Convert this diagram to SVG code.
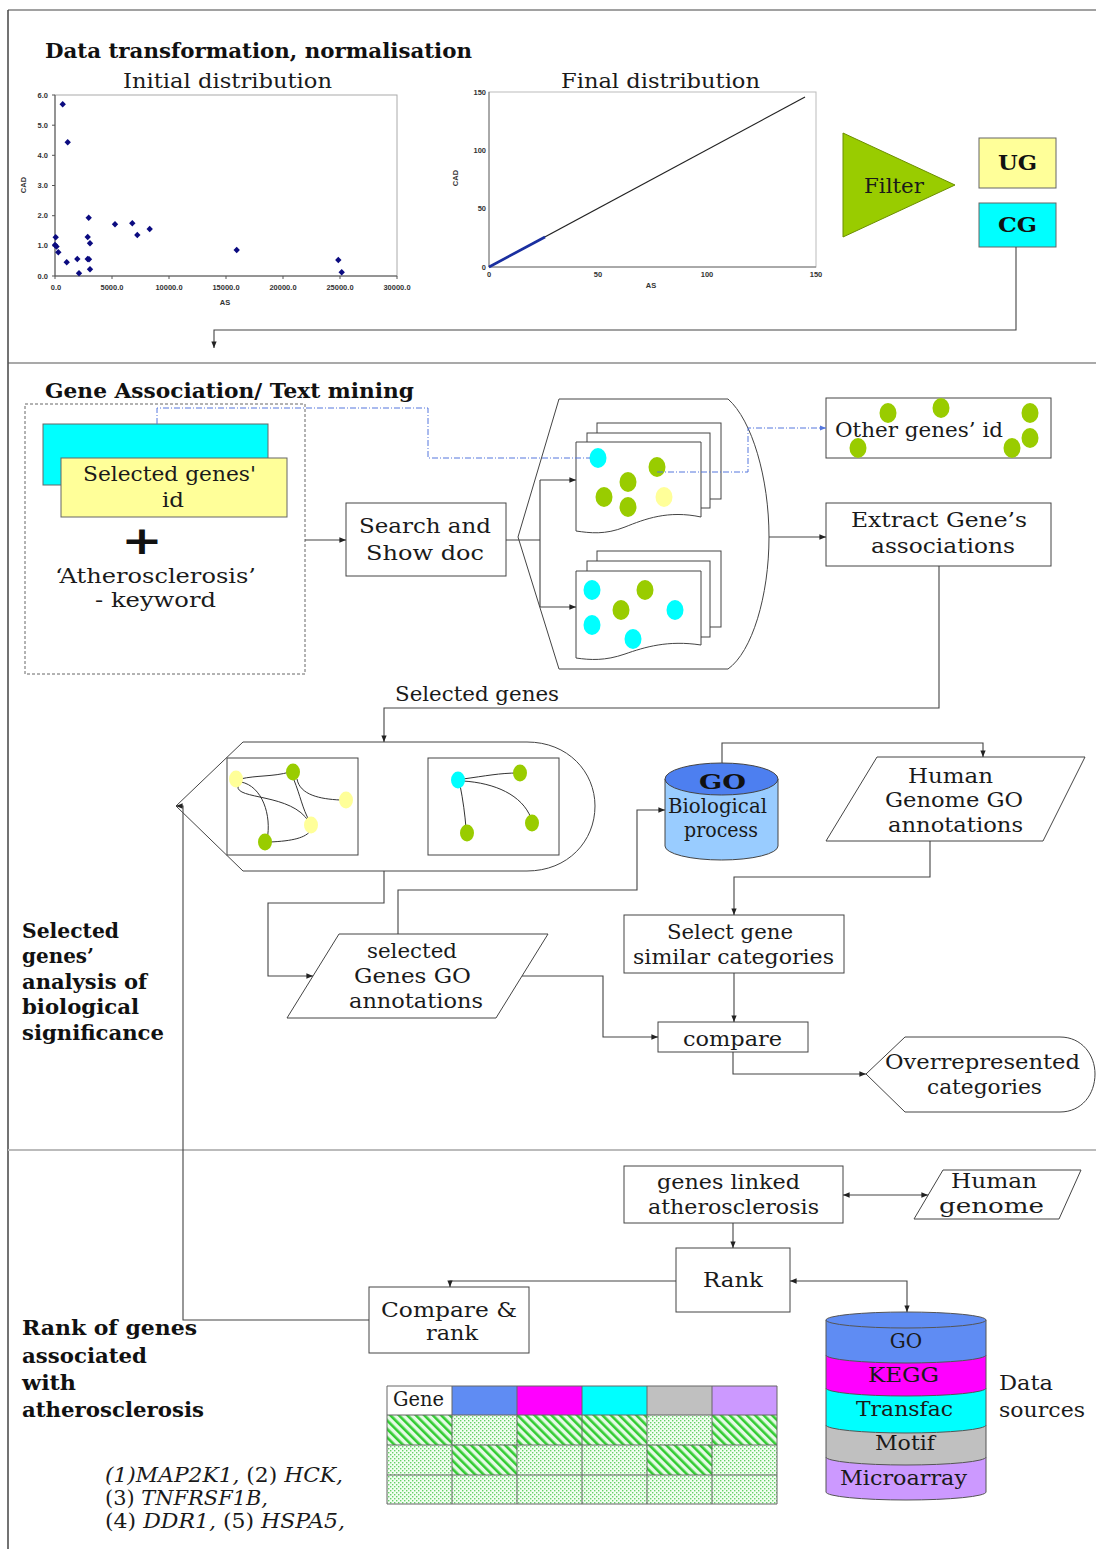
<svg xmlns="http://www.w3.org/2000/svg" xmlns:xlink="http://www.w3.org/1999/xlink" width="1096" height="1549" viewBox="0 0 1096 1549">
<style>
.t{font-family:"DejaVu Serif","Liberation Serif",serif;font-size:20px;fill:#1a1a1a}
.b{font-family:"DejaVu Serif","Liberation Serif",serif;font-size:20px;font-weight:bold;fill:#111}
.ax{font-family:"Liberation Sans",Arial,sans-serif;font-size:7.5px;font-weight:bold;fill:#333}
.box{fill:#fff;stroke:#444;stroke-width:1}
.c{fill:none;stroke:#444;stroke-width:1.1}
.dd{fill:none;stroke:#5577dd;stroke-width:1;stroke-dasharray:6 2 1 2}
.g{fill:#99cc00}.y{fill:#ffff99}.cy{fill:#00ffff}
.edge{fill:none;stroke:#333;stroke-width:1}
</style>
<defs>
<marker id="arr" viewBox="0 0 10 10" refX="10" refY="5" markerWidth="6" markerHeight="6" orient="auto-start-reverse"><path d="M0,1 L10,5 L0,9 z" fill="#222"/></marker>
<marker id="arrb" viewBox="0 0 10 10" refX="10" refY="5" markerWidth="6" markerHeight="6" orient="auto"><path d="M0,1 L10,5 L0,9 z" fill="#5577dd"/></marker>
<path id="dm" d="M0,-3.2 L3.2,0 L0,3.2 L-3.2,0 Z" fill="#0b0b80"/>
<pattern id="hatch" width="6" height="6" patternUnits="userSpaceOnUse" patternTransform="rotate(-45)"><rect width="6" height="6" fill="#e6fbe6"/><rect width="2.6" height="6" fill="#33cc33"/></pattern>
<pattern id="dots" width="4" height="4" patternUnits="userSpaceOnUse"><rect width="4" height="4" fill="#f2fff2"/><rect width="1.4" height="1.4" fill="#66d066"/><rect x="2" y="2" width="1.4" height="1.4" fill="#66d066"/></pattern>
</defs>
<rect width="1096" height="1549" fill="#fff"/>
<g id="frame">
<line x1="8" y1="10" x2="1096" y2="10" stroke="#444" stroke-width="1.2"/>
<line x1="8" y1="10" x2="8" y2="1549" stroke="#444" stroke-width="1.5"/>
<line x1="8" y1="363" x2="1096" y2="363" stroke="#555" stroke-width="1.2"/>
<line x1="8" y1="1150" x2="1096" y2="1150" stroke="#bbb" stroke-width="2"/>
</g>

<!-- Section 1 -->
<g id="title1"><text class="b" x="45" y="58" textLength="427" lengthAdjust="spacingAndGlyphs">Data transformation,  normalisation</text></g>
<g id="chart-initial">
<text class="t" x="123" y="88" textLength="209" lengthAdjust="spacingAndGlyphs">Initial distribution</text>
<rect x="55" y="95" width="342" height="181" fill="none" stroke="#aaa"/>
<path d="M55,95 V276 H397" fill="none" stroke="#555"/>
<path d="M52,95 H55 M52,125.2 H55 M52,155.3 H55 M52,185.5 H55 M52,215.7 H55 M52,245.8 H55 M52,276 H55 M55,276 V279 M112,276 V279 M169,276 V279 M226,276 V279 M283,276 V279 M340,276 V279 M397,276 V279" stroke="#555"/>
<g class="ax" text-anchor="end">
<text x="48" y="97.5">6.0</text><text x="48" y="127.7">5.0</text><text x="48" y="157.8">4.0</text><text x="48" y="188">3.0</text><text x="48" y="218.2">2.0</text><text x="48" y="248.3">1.0</text><text x="48" y="278.5">0.0</text>
</g>
<g class="ax" text-anchor="middle">
<text x="56" y="290">0.0</text><text x="112" y="290">5000.0</text><text x="169" y="290">10000.0</text><text x="226" y="290">15000.0</text><text x="283" y="290">20000.0</text><text x="340" y="290">25000.0</text><text x="397" y="290">30000.0</text>
<text x="225" y="305">AS</text>
<text x="0" y="0" transform="translate(26,185) rotate(-90)">CAD</text>
</g>
<g>
<use href="#dm" x="62.7" y="104.3"/><use href="#dm" x="67.7" y="142.3"/><use href="#dm" x="88.7" y="217.7"/><use href="#dm" x="55.7" y="237.3"/>
<use href="#dm" x="87.7" y="237"/><use href="#dm" x="90" y="243.3"/><use href="#dm" x="55" y="245"/><use href="#dm" x="56.5" y="246.5"/>
<use href="#dm" x="58.3" y="252.3"/><use href="#dm" x="66.7" y="262.3"/><use href="#dm" x="77.3" y="259"/><use href="#dm" x="87.7" y="259"/>
<use href="#dm" x="89" y="259.3"/><use href="#dm" x="79" y="273.3"/><use href="#dm" x="90" y="269.3"/><use href="#dm" x="115" y="224.3"/>
<use href="#dm" x="132.3" y="223.3"/><use href="#dm" x="137.3" y="235"/><use href="#dm" x="149.7" y="229"/><use href="#dm" x="236.7" y="250"/>
<use href="#dm" x="338.3" y="260"/><use href="#dm" x="341.7" y="272.3"/>
</g>
</g>
<g id="chart-final">
<text class="t" x="561" y="88" textLength="199" lengthAdjust="spacingAndGlyphs">Final distribution</text>
<rect x="489" y="92" width="327" height="175" fill="none" stroke="#bbb"/>
<path d="M489,92 V267 H816" fill="none" stroke="#777"/>
<g class="ax" text-anchor="end" font-size="8.5">
<text x="486" y="95">150</text><text x="486" y="152.5">100</text><text x="486" y="211">50</text><text x="486" y="270">0</text>
</g>
<g class="ax" text-anchor="middle" font-size="8.5">
<text x="489" y="277">0</text><text x="598" y="277">50</text><text x="707" y="277">100</text><text x="816" y="277">150</text>
<text x="651" y="288">AS</text>
<text x="0" y="0" transform="translate(458,178) rotate(-90)">CAD</text>
</g>
<line x1="489" y1="267" x2="805" y2="97" stroke="#222" stroke-width="1.2"/>
<line x1="489" y1="267" x2="545" y2="237" stroke="#1a2fa0" stroke-width="2.6"/>
</g>
<g id="filter">
<polygon points="843,133 955,185 843,237" fill="#99cc00" stroke="#6b8e00"/>
<text class="t" x="864" y="193" font-size="21" textLength="60" lengthAdjust="spacingAndGlyphs">Filter</text>
</g>
<g id="UG"><rect x="979" y="138" width="77" height="50" fill="#ffff99" stroke="#666"/><text class="b" x="998" y="170" font-size="22" textLength="39" lengthAdjust="spacingAndGlyphs">UG</text></g>
<g id="CG"><rect x="979" y="203" width="77" height="44" fill="#00ffff" stroke="#666"/><text class="b" x="998" y="232" font-size="22" textLength="39" lengthAdjust="spacingAndGlyphs">CG</text></g>

<!-- Section 2 -->
<g id="title2"><text class="b" x="45" y="398" textLength="369" lengthAdjust="spacingAndGlyphs">Gene Association/ Text mining</text></g>
<g id="input">
<rect x="25" y="404" width="280" height="270" fill="none" stroke="#666" stroke-dasharray="3 2"/>
<rect x="43" y="424" width="225" height="61" fill="#00ffff" stroke="#666"/>
<rect x="61" y="458" width="226" height="59" fill="#ffff99" stroke="#666"/>
<text class="t" x="83" y="481" textLength="173" lengthAdjust="spacingAndGlyphs">Selected genes'</text>
<text class="t" x="162" y="507" textLength="22" lengthAdjust="spacingAndGlyphs">id</text>
<text x="0" y="0" transform="translate(142,554) scale(1.3,1.05)" text-anchor="middle" font-family="DejaVu Sans,sans-serif" font-weight="bold" font-size="38" fill="#111">+</text>
<text class="t" x="55" y="583" textLength="201" lengthAdjust="spacingAndGlyphs">‘Atherosclerosis’</text>
<text class="t" x="95" y="607" textLength="121" lengthAdjust="spacingAndGlyphs">- keyword</text>
</g>
<g id="search">
<rect class="box" x="346" y="503" width="160" height="73"/>
<text class="t" x="359" y="533" textLength="132" lengthAdjust="spacingAndGlyphs">Search and</text>
<text class="t" x="366" y="560" textLength="118" lengthAdjust="spacingAndGlyphs">Show doc</text>
</g>
<g id="docs">
<path class="box" d="M518,537 L559,399 H728 C752,420 769,478 769,537 C769,596 752,652 728,669 H559 Z"/>
<rect class="box" x="597" y="423" width="124" height="76"/>
<rect class="box" x="587" y="433" width="123" height="75"/>
<path class="box" d="M576,442 H701 V517 C668,510 645,519 625,527 C605,535 590,533 576,531 Z"/>
<ellipse class="cy" cx="598" cy="458" rx="8.5" ry="10"/>
<ellipse class="g" cx="657" cy="467" rx="8.5" ry="10"/>
<ellipse class="g" cx="628" cy="482" rx="8.5" ry="10"/>
<ellipse class="g" cx="604" cy="497" rx="8.5" ry="10"/>
<ellipse class="g" cx="628" cy="507" rx="8.5" ry="10"/>
<ellipse class="y" cx="664" cy="497" rx="8.5" ry="10"/>
<rect class="box" x="597" y="551" width="124" height="76"/>
<rect class="box" x="587" y="561" width="123" height="76"/>
<path class="box" d="M576,571 H701 V645 C668,640 645,647 625,654 C605,661 590,660 576,658 Z"/>
<ellipse class="cy" cx="592" cy="590" rx="8.5" ry="10"/>
<ellipse class="g" cx="645" cy="590" rx="8.5" ry="10"/>
<ellipse class="g" cx="621" cy="610" rx="8.5" ry="10"/>
<ellipse class="cy" cx="675" cy="610" rx="8.5" ry="10"/>
<ellipse class="cy" cx="592" cy="625" rx="8.5" ry="10"/>
<ellipse class="cy" cx="633" cy="639" rx="8.5" ry="10"/>
</g>
<g id="other-genes">
<rect class="box" x="826" y="398" width="225" height="60"/>
<ellipse class="g" cx="888" cy="413" rx="8.5" ry="10"/>
<ellipse class="g" cx="941" cy="408" rx="8.5" ry="10"/>
<ellipse class="g" cx="1030" cy="413" rx="8.5" ry="10"/>
<ellipse class="g" cx="1030" cy="438" rx="8.5" ry="10"/>
<ellipse class="g" cx="1012" cy="448" rx="8.5" ry="10"/>
<ellipse class="g" cx="858" cy="448" rx="8.5" ry="10"/>
<text class="t" x="835" y="437" font-size="21" textLength="168" lengthAdjust="spacingAndGlyphs">Other genes’ id</text>
</g>
<g id="extract">
<rect class="box" x="826" y="503" width="225" height="63"/>
<text class="t" x="851" y="527" textLength="176" lengthAdjust="spacingAndGlyphs">Extract Gene’s</text>
<text class="t" x="871" y="553" textLength="144" lengthAdjust="spacingAndGlyphs">associations</text>
</g>
<g id="label-selected-genes"><text class="t" x="395" y="701" textLength="164" lengthAdjust="spacingAndGlyphs">Selected genes</text></g>

<!-- Section 3 -->
<g id="networks">
<path class="box" d="M176,806 L243,742 H527 C568,742 595,772 595,806 C595,841 568,871 527,871 H243 Z"/>
<rect class="box" x="227" y="758" width="131" height="97"/>
<rect class="box" x="428" y="758" width="131" height="97"/>
<path class="edge" d="M240,779 C258,775 272,777 290,772"/>
<path class="edge" d="M241,782 C262,786 272,815 267,840"/>
<path class="edge" d="M238,786 C235,800 292,793 309,822"/>
<path class="edge" d="M297,779 C300,795 320,799 340,800"/>
<path class="edge" d="M294,780 C300,795 303,810 309,820"/>
<path class="edge" d="M270,842 C292,841 306,838 311,830"/>
<ellipse class="y" cx="236" cy="779" rx="7" ry="8.5"/>
<ellipse class="g" cx="293" cy="772" rx="7" ry="8.5"/>
<ellipse class="y" cx="346" cy="800" rx="7" ry="8.5"/>
<ellipse class="y" cx="311" cy="825" rx="7" ry="8.5"/>
<ellipse class="g" cx="265" cy="842" rx="7" ry="8.5"/>
<path class="edge" d="M463,779 C485,776 500,773 518,773"/>
<path class="edge" d="M463,781 C495,783 522,795 531,818"/>
<path class="edge" d="M460,785 C463,800 465,815 466,828"/>
<ellipse class="cy" cx="458" cy="780" rx="7" ry="8.5"/>
<ellipse class="g" cx="520" cy="773" rx="7" ry="8.5"/>
<ellipse class="g" cx="532" cy="823" rx="7" ry="8.5"/>
<ellipse class="g" cx="467" cy="833" rx="7" ry="8.5"/>
</g>
<g id="go-db">
<path d="M665,779 V846 A56.5,14 0 0 0 778,846 V779 Z" fill="#99ccff" stroke="#444"/>
<ellipse cx="721.5" cy="779" rx="56.5" ry="16" fill="#4d7ff0" stroke="#444"/>
<text class="b" x="699" y="789" font-size="25" textLength="47" lengthAdjust="spacingAndGlyphs">GO</text>
<text class="t" x="668" y="813" textLength="99" lengthAdjust="spacingAndGlyphs">Biological</text>
<text class="t" x="684" y="837" textLength="74" lengthAdjust="spacingAndGlyphs">process</text>
</g>
<g id="human-go">
<polygon class="box" points="877,757 1085,757 1043,841 826,841"/>
<text class="t" x="908" y="783" textLength="85" lengthAdjust="spacingAndGlyphs">Human</text>
<text class="t" x="885" y="807" textLength="138" lengthAdjust="spacingAndGlyphs">Genome GO</text>
<text class="t" x="888" y="832" textLength="135" lengthAdjust="spacingAndGlyphs">annotations</text>
</g>
<g id="selected-go">
<polygon class="box" points="339,934 548,934 496,1018 287,1018"/>
<text class="t" x="367" y="958" textLength="90" lengthAdjust="spacingAndGlyphs">selected</text>
<text class="t" x="354" y="983" textLength="117" lengthAdjust="spacingAndGlyphs">Genes GO</text>
<text class="t" x="349" y="1008" textLength="134" lengthAdjust="spacingAndGlyphs">annotations</text>
</g>
<g id="select-gene">
<rect class="box" x="624" y="915" width="220" height="58"/>
<text class="t" x="667" y="939" textLength="126" lengthAdjust="spacingAndGlyphs">Select gene</text>
<text class="t" x="633" y="964" textLength="201" lengthAdjust="spacingAndGlyphs">similar categories</text>
</g>
<g id="compare">
<rect class="box" x="658" y="1022" width="150" height="30"/>
<text class="t" x="683" y="1046" textLength="99" lengthAdjust="spacingAndGlyphs">compare</text>
</g>
<g id="overrep">
<path class="box" d="M866,1074 L905,1037 H1060 C1082,1037 1095,1055 1095,1074 C1095,1094 1082,1112 1060,1112 H905 Z"/>
<text class="t" x="885" y="1069" textLength="195" lengthAdjust="spacingAndGlyphs">Overrepresented</text>
<text class="t" x="927" y="1094" textLength="115" lengthAdjust="spacingAndGlyphs">categories</text>
</g>
<g id="label-significance">
<text class="b" x="22" y="938" textLength="97" lengthAdjust="spacingAndGlyphs">Selected</text>
<text class="b" x="22" y="963" textLength="72" lengthAdjust="spacingAndGlyphs">genes’</text>
<text class="b" x="22" y="989" textLength="125" lengthAdjust="spacingAndGlyphs">analysis of</text>
<text class="b" x="22" y="1014" textLength="117" lengthAdjust="spacingAndGlyphs">biological</text>
<text class="b" x="22" y="1040" textLength="142" lengthAdjust="spacingAndGlyphs">significance</text>
</g>

<!-- Section 4 -->
<g id="genes-linked">
<rect class="box" x="624" y="1166" width="219" height="57"/>
<text class="t" x="657" y="1189" textLength="143" lengthAdjust="spacingAndGlyphs">genes linked</text>
<text class="t" x="648" y="1214" textLength="171" lengthAdjust="spacingAndGlyphs">atherosclerosis</text>
</g>
<g id="human-genome">
<polygon class="box" points="943,1170 1081,1170 1059,1219 914,1219"/>
<text class="t" x="951" y="1188" textLength="86" lengthAdjust="spacingAndGlyphs">Human</text>
<text class="t" x="939" y="1213" textLength="105" lengthAdjust="spacingAndGlyphs">genome</text>
</g>
<g id="rank">
<rect class="box" x="676" y="1248" width="114" height="64"/>
<text class="t" x="703" y="1287" textLength="60" lengthAdjust="spacingAndGlyphs">Rank</text>
</g>
<g id="compare-rank">
<rect class="box" x="369" y="1287" width="160" height="66"/>
<text class="t" x="381" y="1317" textLength="136" lengthAdjust="spacingAndGlyphs">Compare &amp;</text>
<text class="t" x="426" y="1340" textLength="52" lengthAdjust="spacingAndGlyphs">rank</text>
</g>
<g id="data-sources">
<path d="M826,1457 V1492 A80,8 0 0 0 986,1492 V1457 Z" fill="#cc99ff" stroke="#555"/>
<path d="M826,1425 V1457 A80,8 0 0 0 986,1457 V1425 Z" fill="#c0c0c0" stroke="#555"/>
<path d="M826,1388 V1425 A80,8 0 0 0 986,1425 V1388 Z" fill="#00ffff" stroke="#555"/>
<path d="M826,1355 V1388 A80,8 0 0 0 986,1388 V1355 Z" fill="#ff00ff" stroke="#555"/>
<path d="M826,1320 V1355 A80,8 0 0 0 986,1355 V1320 Z" fill="#5f8cf3" stroke="#555"/>
<ellipse cx="906" cy="1320" rx="80" ry="8" fill="#5f8cf3" stroke="#555"/>
<text class="t" x="906" y="1348" text-anchor="middle">GO</text>
<text class="t" x="868" y="1382" textLength="71" lengthAdjust="spacingAndGlyphs">KEGG</text>
<text class="t" x="856" y="1416" textLength="97" lengthAdjust="spacingAndGlyphs">Transfac</text>
<text class="t" x="875" y="1450" textLength="60" lengthAdjust="spacingAndGlyphs">Motif</text>
<text class="t" x="840" y="1485" textLength="127" lengthAdjust="spacingAndGlyphs">Microarray</text>
<text class="t" x="999" y="1390" textLength="54" lengthAdjust="spacingAndGlyphs">Data</text>
<text class="t" x="999" y="1417" textLength="86" lengthAdjust="spacingAndGlyphs">sources</text>
</g>
<g id="table">
<rect x="387" y="1386" width="65" height="29" fill="#fff"/>
<rect x="452" y="1386" width="65" height="29" fill="#5f8cf3"/>
<rect x="517" y="1386" width="65" height="29" fill="#ff00ff"/>
<rect x="582" y="1386" width="65" height="29" fill="#00ffff"/>
<rect x="647" y="1386" width="65" height="29" fill="#c0c0c0"/>
<rect x="712" y="1386" width="65" height="29" fill="#cc99ff"/>
<rect x="387" y="1415" width="65" height="30" fill="url(#hatch)"/>
<rect x="452" y="1415" width="65" height="30" fill="url(#dots)"/>
<rect x="517" y="1415" width="65" height="30" fill="url(#hatch)"/>
<rect x="582" y="1415" width="65" height="30" fill="url(#hatch)"/>
<rect x="647" y="1415" width="65" height="30" fill="url(#dots)"/>
<rect x="712" y="1415" width="65" height="30" fill="url(#hatch)"/>
<rect x="387" y="1445" width="65" height="30" fill="url(#dots)"/>
<rect x="452" y="1445" width="65" height="30" fill="url(#hatch)"/>
<rect x="517" y="1445" width="65" height="30" fill="url(#dots)"/>
<rect x="582" y="1445" width="65" height="30" fill="url(#dots)"/>
<rect x="647" y="1445" width="65" height="30" fill="url(#hatch)"/>
<rect x="712" y="1445" width="65" height="30" fill="url(#dots)"/>
<rect x="387" y="1475" width="390" height="29" fill="url(#dots)"/>
<path d="M387,1386 H777 V1504 H387 Z M387,1415 H777 M387,1445 H777 M387,1475 H777 M452,1386 V1504 M517,1386 V1504 M582,1386 V1504 M647,1386 V1504 M712,1386 V1504" fill="none" stroke="#666"/>
<text class="t" x="393" y="1406" font-size="16" textLength="51" lengthAdjust="spacingAndGlyphs">Gene</text>
</g>
<g id="label-rank">
<text class="b" x="22" y="1335" textLength="175" lengthAdjust="spacingAndGlyphs">Rank of genes</text>
<text class="b" x="22" y="1363" textLength="125" lengthAdjust="spacingAndGlyphs">associated</text>
<text class="b" x="22" y="1390" textLength="54" lengthAdjust="spacingAndGlyphs">with</text>
<text class="b" x="22" y="1417" textLength="182" lengthAdjust="spacingAndGlyphs">atherosclerosis</text>
</g>
<g id="gene-list">
<text class="t" x="105" y="1482" textLength="238" lengthAdjust="spacingAndGlyphs"><tspan font-style="italic">(1)MAP2K1,</tspan> (2) <tspan font-style="italic">HCK,</tspan></text>
<text class="t" x="105" y="1505" textLength="163" lengthAdjust="spacingAndGlyphs">(3) <tspan font-style="italic">TNFRSF1B,</tspan></text>
<text class="t" x="105" y="1528" textLength="240" lengthAdjust="spacingAndGlyphs">(4) <tspan font-style="italic">DDR1,</tspan> (5) <tspan font-style="italic">HSPA5,</tspan></text>
</g>

<g id="connectors">
<path class="c" d="M1016,247 V330 H214 V348" marker-end="url(#arr)"/>
<path class="c" d="M305,540 H346" marker-end="url(#arr)"/>
<path class="c" d="M506,540 H540 M540,480 V607"/>
<path class="c" d="M540,480 H576" marker-end="url(#arr)"/>
<path class="c" d="M540,607 H576" marker-end="url(#arr)"/>
<path class="c" d="M769,537 H826" marker-end="url(#arr)"/>
<path class="c" d="M939,566 V708 H384 V742" marker-end="url(#arr)"/>
<path class="c" d="M384,871 V903 H268 V976 H313" marker-end="url(#arr)"/>
<path class="c" d="M398,934 V890 H637 V810 H665" marker-end="url(#arr)"/>
<path class="c" d="M722,763 V743 H983 V757" marker-end="url(#arr)"/>
<path class="c" d="M930,841 V877 H734 V915" marker-end="url(#arr)"/>
<path class="c" d="M734,973 V1022" marker-end="url(#arr)"/>
<path class="c" d="M522,976 H603 V1037 H658" marker-end="url(#arr)"/>
<path class="c" d="M733,1052 V1074 H866" marker-end="url(#arr)"/>
<path class="c" d="M843,1195 H928" marker-start="url(#arr)" marker-end="url(#arr)"/>
<path class="c" d="M733,1223 V1248" marker-end="url(#arr)"/>
<path class="c" d="M676,1281 H450 V1287" marker-end="url(#arr)"/>
<path class="c" d="M790,1281 H907 V1312" marker-start="url(#arr)" marker-end="url(#arr)"/>
<path class="c" d="M369,1320 H183 V806 H176" marker-end="url(#arr)"/>
<path class="dd" d="M157,424 V408 H428 V458 H590"/>
<path class="dd" d="M657,472 H748 V428 H826" marker-end="url(#arrb)"/>
</g>
</svg>
